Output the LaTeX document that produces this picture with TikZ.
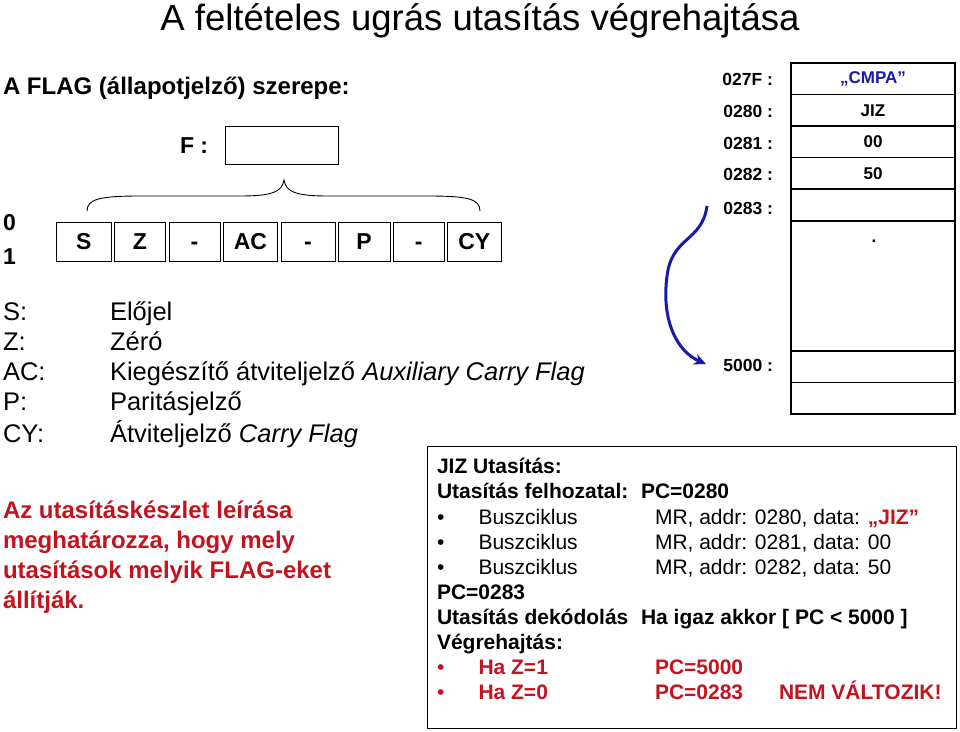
\documentclass[tikz,border=0pt]{standalone}
\usepackage{fontspec}
\setmainfont{Liberation Sans}
\usetikzlibrary{arrows.meta}
\definecolor{myred}{RGB}{195,20,30}
\definecolor{myblue}{RGB}{25,25,170}
\newcommand{\fsz}[1]{\fontsize{#1}{#1}\selectfont}
\begin{document}
\begin{tikzpicture}[x=1pt,y=-1pt,
  txt/.style={inner sep=0pt, outer sep=0pt, anchor=base west},
  rtxt/.style={inner sep=0pt, outer sep=0pt, anchor=base east},
  flagbox/.style={draw, line width=1pt, inner sep=0pt, outer sep=0pt, minimum height=39pt, text height=16.5pt, text depth=0pt, font=\fsz{23}\bfseries},
  memcell/.style={draw, line width=1.1pt, inner sep=0pt, outer sep=0pt, anchor=north west, minimum width=164pt, minimum height=31.5pt, font=\fsz{17}\bfseries},
  memlbl/.style={inner sep=0pt, outer sep=0pt, anchor=east, font=\fsz{17.5}\bfseries},
  deflbl/.style={txt, font=\fsz{25.5}},
  redtxt/.style={txt, font=\fsz{24}\bfseries, text=myred},
  jb/.style={txt, font=\fsz{21}\bfseries},
  jr/.style={txt, font=\fsz{21}},
  jred/.style={txt, font=\fsz{21}\bfseries, text=myred},
]
\useasboundingbox (0,0) rectangle (960,731);

% title
\node[inner sep=0pt, anchor=base, font=\fsz{36.5}] (title) at (480,30) {A feltételes ugrás utasítás végrehajtása};
\node[txt, font=\fsz{24}\bfseries] (flaghead) at (3,94) {A FLAG (állapotjelző) szerepe:};

% F register
\node[txt, font=\fsz{23}\bfseries] (flbl) at (180,153) {F :};
\node[draw, line width=1pt, inner sep=0pt, minimum width=113.3pt, minimum height=38.3pt] (fbox) at (282.3,145.2) {};

% brace
\draw[line width=0.9pt] (87,211) .. controls (87,199) and (100,196) .. (140,196) -- (240,196) .. controls (272,196) and (282,192) .. (284,180) .. controls (286,192) and (296,196) .. (328,196) -- (428,196) .. controls (468,196) and (480,199) .. (480,211);

% 0 / 1
\node[txt, font=\fsz{23}\bfseries] (zero) at (3,230) {0};
\node[txt, font=\fsz{23}\bfseries] (one) at (3,264) {1};

% flag boxes
\node[flagbox, minimum width=54.3pt] (fS) at (83.85,241.5) {S};
\node[flagbox, minimum width=51.4pt] (fZ) at (140,241.5) {Z};
\node[flagbox, minimum width=51pt] (f5) at (194.5,241.5) {-};
\node[flagbox, minimum width=54.4pt] (fAC) at (250.5,241.5) {AC};
\node[flagbox, minimum width=54pt] (f3) at (308,241.5) {-};
\node[flagbox, minimum width=51.7pt] (fP) at (364.15,241.5) {P};
\node[flagbox, minimum width=51pt] (f1) at (418.8,241.5) {-};
\node[flagbox, minimum width=53.3pt] (fCY) at (474.35,241.5) {CY};

% definitions
\node[deflbl] (dS) at (3,320) {S:};
\node[deflbl] (dZ) at (3,350) {Z:};
\node[deflbl] (dAC) at (3,380) {AC:};
\node[deflbl] (dP) at (3,410) {P:};
\node[deflbl] (dCY) at (3,442) {CY:};
\node[deflbl] (tS) at (110,320) {Előjel};
\node[deflbl] (tZ) at (110,350) {Zéró};
\node[deflbl] (tAC) at (110,380) {Kiegészítő átviteljelző \textit{Auxiliary Carry Flag}};
\node[deflbl] (tP) at (110,410) {Paritásjelző};
\node[deflbl] (tCY) at (110,442) {Átviteljelző \textit{Carry Flag}};

% red note
\node[redtxt] (r1) at (3,518) {Az utasításkészlet leírása};
\node[redtxt] (r2) at (3,548) {meghatározza, hogy mely};
\node[redtxt] (r3) at (3,578) {utasítások melyik FLAG-eket};
\node[redtxt] (r4) at (3,608) {állítják.};

% memory
\node[memcell, text=myblue] (m027F) at (791,63) {„CMPA”};
\node[memcell] (m0280) at (791,94.5) {JIZ};
\node[memcell] (m0281) at (791,126) {00};
\node[memcell] (m0282) at (791,157.5) {50};
\node[memcell] (m0283) at (791,189) {};
\node[memcell, minimum height=130pt] (mgap) at (791,221) {};
\node[memcell] (m5000) at (791,351) {};
\node[memcell] (m5001) at (791,382.5) {};
\node[inner sep=0pt, font=\fsz{17}\bfseries] (dot) at (874,241) {.};

\node[memlbl] (l027F) at (773,79) {027F :};
\node[memlbl] (l0280) at (773,111) {0280 :};
\node[memlbl] (l0281) at (773,143) {0281 :};
\node[memlbl] (l0282) at (773,174.5) {0282 :};
\node[memlbl] (l0283) at (773,208) {0283 :};
\node[memlbl] (l5000) at (773,365) {5000 :};

% jump arrow
\coordinate (jstart) at (707,206);
\coordinate (jend) at (706,364);
\draw[myblue, line width=3pt, -{Stealth[length=12pt,width=11pt]}] (jstart) .. controls (702,242) and (672,236) .. (667,276) .. controls (661,322) and (678,352) .. (jend);

% JIZ box
\node[draw, line width=1.1pt, inner sep=0pt, anchor=north west, minimum width=529.5pt, minimum height=282.5pt] (jizbox) at (426.5,445.5) {};
\node[jb] (j1) at (437,473.5) {JIZ Utasítás:};
\node[jb] (j2) at (437,498.5) {Utasítás felhozatal:};
\node[jb] (j2b) at (641,498.5) {PC=0280};
\node[jr] (b1) at (437,524.5) {•};
\node[jr] (b1a) at (478.5,524.5) {Buszciklus};
\node[jr] (b1b) at (655,524.5) {MR, addr: 0280, data: \textcolor{myred}{\bfseries „JIZ”}};
\node[jr] (b2) at (437,549.5) {•};
\node[jr] (b2a) at (478.5,549.5) {Buszciklus};
\node[jr] (b2b) at (655,549.5) {MR, addr: 0281, data: 00};
\node[jr] (b3) at (437,574.5) {•};
\node[jr] (b3a) at (478.5,574.5) {Buszciklus};
\node[jr] (b3b) at (655,574.5) {MR, addr: 0282, data: 50};
\node[jb] (j6) at (437,599.5) {PC=0283};
\node[jb] (j7) at (437,624.5) {Utasítás dekódolás};
\node[jb] (j7b) at (641,624.5) {Ha igaz akkor [ PC < 5000 ]};
\node[jb] (j8) at (437,649.5) {Végrehajtás:};
\node[txt, font=\fsz{21}, text=myred] (b4) at (437,674.5) {•};
\node[jred] (b4a) at (478.5,674.5) {Ha Z=1};
\node[jred] (b4b) at (655,674.5) {PC=5000};
\node[txt, font=\fsz{21}, text=myred] (b5) at (437,699.5) {•};
\node[jred] (b5a) at (478.5,699.5) {Ha Z=0};
\node[jred] (b5b) at (655,699.5) {PC=0283};
\node[jred] (b5c) at (779,699.5) {NEM VÁLTOZIK!};
\end{tikzpicture}
\end{document}
